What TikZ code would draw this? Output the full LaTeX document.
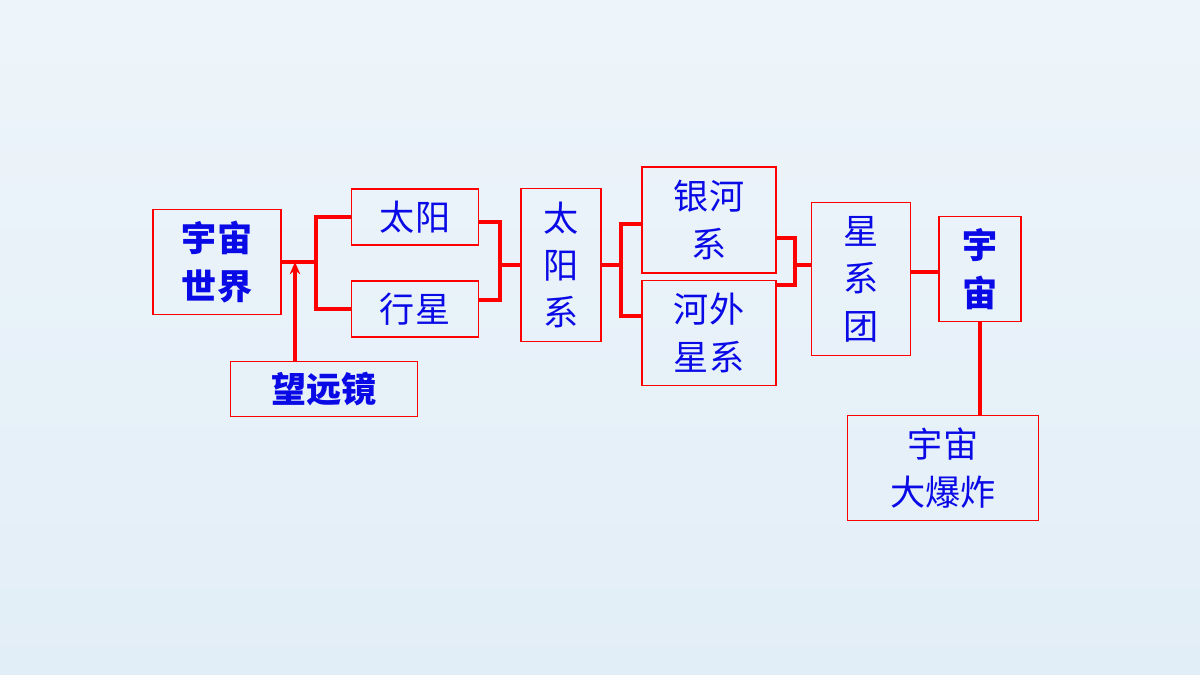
\documentclass[tikz,border=0pt]{standalone}
\usepackage{fontspec}
\setmainfont{Noto Sans CJK SC}
\usetikzlibrary{arrows.meta}
\definecolor{bgblue}{RGB}{226,238,247}
\definecolor{txtblue}{RGB}{10,10,230}
\tikzset{
  box/.style={draw=red,line width=0.8pt,inner sep=0pt,align=center,
    text=txtblue,font=\fontsize{20}{27}\selectfont},
  bbox/.style={box,font=\fontsize{20}{27}\selectfont\bfseries},
  link/.style={draw=red,line width=1.8pt}
}
\begin{document}
\begin{tikzpicture}[x=0.02cm,y=-0.02cm]
\shade[top color=bgblue!60!white,bottom color=bgblue] (0,0) rectangle (1200,675);
\useasboundingbox (0,0) rectangle (1200,675);

\node[bbox,minimum width=2.56cm,minimum height=2.1cm] (world) at (217,262) {宇宙\\世界};
\node[box,minimum width=2.54cm,minimum height=1.12cm] (sun) at (415,217) {太阳};
\node[box,minimum width=2.54cm,minimum height=1.12cm] (planet) at (415,309) {行星};
\node[box,minimum width=1.6cm,minimum height=3.06cm] (solar) at (561,265) {太\\阳\\系};
\node[box,minimum width=2.68cm,minimum height=2.12cm] (milky) at (709,220) {银河\\系};
\node[box,minimum width=2.68cm,minimum height=2.1cm] (extra) at (709,333) {河外\\星系};
\node[box,minimum width=1.98cm,minimum height=3.06cm] (cluster) at (861,279) {星\\系\\团};
\node[bbox,minimum width=1.64cm,minimum height=2.1cm] (universe) at (980,269) {宇\\宙};
\node[bbox,minimum width=3.74cm,minimum height=1.1cm] (scope) at (324,389) {望远镜};
\node[box,minimum width=3.82cm,minimum height=2.1cm] (bang) at (943,468) {宇宙\\大爆炸};

% left fork
\coordinate (f1) at (316,262);
\draw[link] (world.east |- f1) -- (f1);
\draw[link] (sun.west) -| (f1) |- (planet.west);
\draw[link,-{Stealth[length=7pt,width=6pt]}] (scope.north -| 295,0) -- (295,262);

% sun and planet join
\coordinate (f2) at (500,265);
\draw[link] (sun.east |- 0,222) -| (f2) |- (planet.east |- 0,300);
\draw[link] (f2) -- (solar.west |- f2);

% galaxies
\coordinate (f3) at (621,265);
\draw[link] (solar.east |- f3) -- (f3);
\draw[link] (milky.west |- 0,224) -| (f3) |- (extra.west |- 0,316);

\coordinate (f4) at (795,265);
\draw[link] (milky.east |- 0,238) -| (f4) |- (extra.east |- 0,285);
\draw[link] (f4) -- (cluster.west |- f4);

\draw[link] (cluster.east |- 0,272) -- (universe.west |- 0,272);
\draw[link] (universe.south) -- (bang.north -| universe.south);
\end{tikzpicture}
\end{document}
